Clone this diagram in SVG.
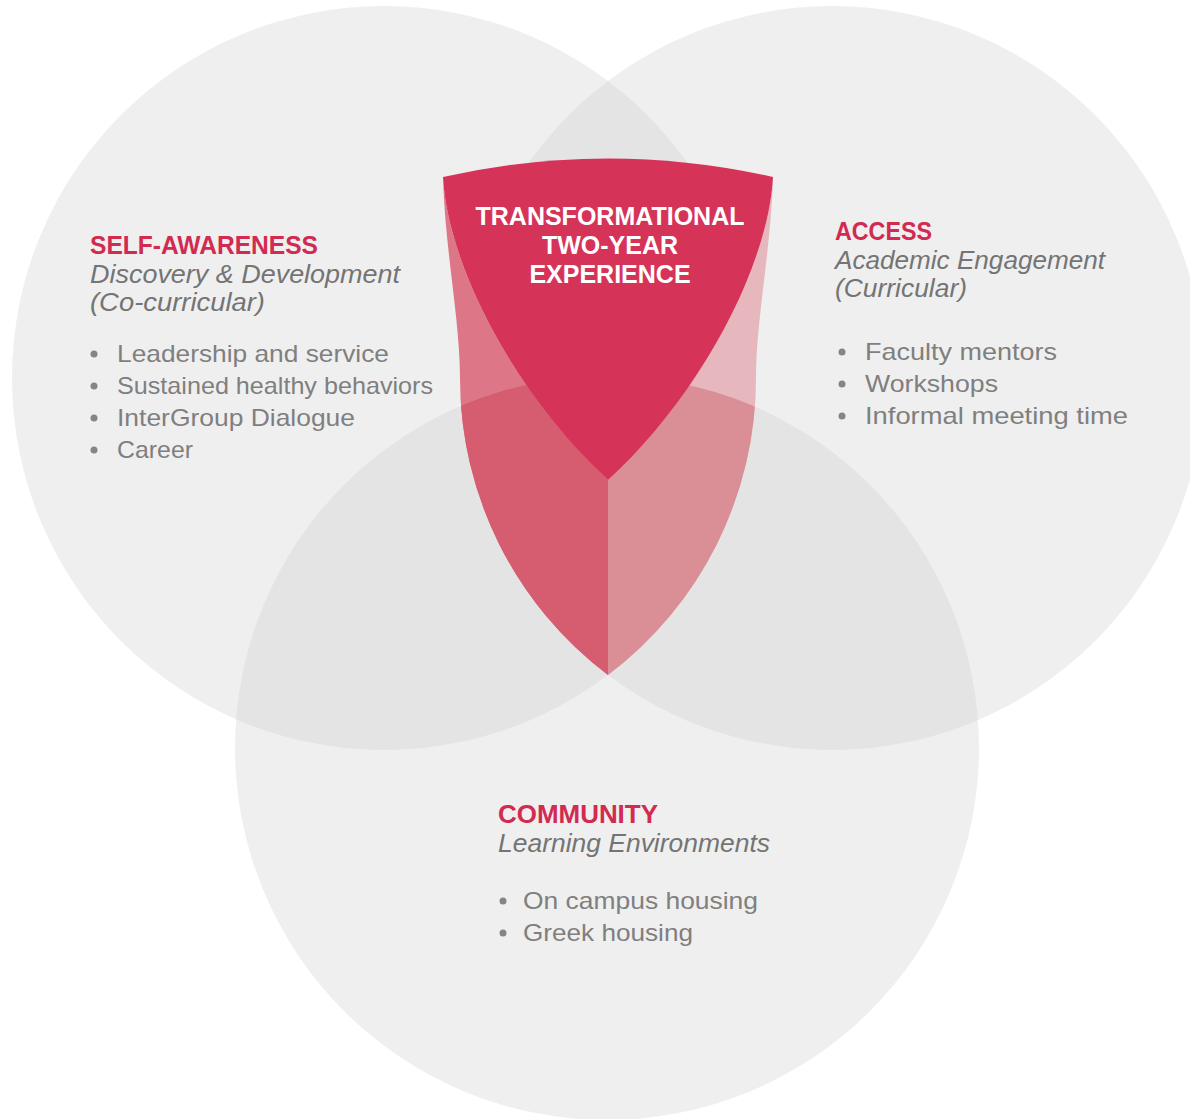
<svg xmlns="http://www.w3.org/2000/svg" width="1190" height="1119" viewBox="0 0 1190 1119">
<style>
.c{fill:#cccccc;fill-opacity:0.31}
.h{font-family:"Liberation Sans",Arial,sans-serif;font-weight:bold;font-size:26px;fill:#d22a50}
.s{font-family:"Liberation Sans",Arial,sans-serif;font-style:italic;font-size:25px;fill:#747474}
.b{font-family:"Liberation Sans",Arial,sans-serif;font-size:24px;fill:#7f7f7f}
.d{fill:#858585}
.t{font-family:"Liberation Sans",Arial,sans-serif;font-weight:bold;font-size:25px;fill:#ffffff;text-anchor:middle}
</style>
<defs>
<clipPath id="bc"><circle cx="607" cy="748" r="372"/></clipPath>
<path id="lp" d="M443,177 C448,270 520,400 608,480 L608,675 A372,372 0 0,1 460,378 C460,320 445,250 443,177 Z"/>
<path id="rp" d="M773,177 C768,270 696,400 608,480 L608,675 A372,372 0 0,0 756,378 C756,320 771,250 773,177 Z"/>
</defs>
<rect width="1190" height="1119" fill="#ffffff"/>
<g id="self-awareness">
<circle class="c" cx="384" cy="378" r="372"/>
<text class="h" x="90" y="254" textLength="228" lengthAdjust="spacingAndGlyphs">SELF-AWARENESS</text>
<text class="s" x="90" y="283" textLength="310" lengthAdjust="spacingAndGlyphs">Discovery &amp; Development</text>
<text class="s" x="90" y="311" textLength="175" lengthAdjust="spacingAndGlyphs">(Co-curricular)</text>
<circle class="d" cx="94" cy="354" r="3.5"/>
<circle class="d" cx="94" cy="386" r="3.5"/>
<circle class="d" cx="94" cy="418" r="3.5"/>
<circle class="d" cx="94" cy="450" r="3.5"/>
<text class="b" x="117" y="362" textLength="272" lengthAdjust="spacingAndGlyphs">Leadership and service</text>
<text class="b" x="117" y="394" textLength="316" lengthAdjust="spacingAndGlyphs">Sustained healthy behaviors</text>
<text class="b" x="117" y="426" textLength="238" lengthAdjust="spacingAndGlyphs">InterGroup Dialogue</text>
<text class="b" x="117" y="458" textLength="76" lengthAdjust="spacingAndGlyphs">Career</text>
</g>
<g id="access">
<circle class="c" cx="832" cy="378" r="372"/>
<text class="h" x="835" y="240" textLength="97" lengthAdjust="spacingAndGlyphs">ACCESS</text>
<text class="s" x="835" y="269" textLength="270" lengthAdjust="spacingAndGlyphs">Academic Engagement</text>
<text class="s" x="835" y="297" textLength="132" lengthAdjust="spacingAndGlyphs">(Curricular)</text>
<circle class="d" cx="842" cy="352" r="3.5"/>
<circle class="d" cx="842" cy="384" r="3.5"/>
<circle class="d" cx="842" cy="416" r="3.5"/>
<text class="b" x="865" y="360" textLength="192" lengthAdjust="spacingAndGlyphs">Faculty mentors</text>
<text class="b" x="865" y="392" textLength="133" lengthAdjust="spacingAndGlyphs">Workshops</text>
<text class="b" x="865" y="424" textLength="263" lengthAdjust="spacingAndGlyphs">Informal meeting time</text>
</g>
<g id="community">
<circle class="c" cx="607" cy="748" r="372"/>
<text class="h" x="498" y="823" textLength="160" lengthAdjust="spacingAndGlyphs">COMMUNITY</text>
<text class="s" x="498" y="852" textLength="272" lengthAdjust="spacingAndGlyphs">Learning Environments</text>
<circle class="d" cx="503" cy="901" r="3.5"/>
<circle class="d" cx="503" cy="933" r="3.5"/>
<text class="b" x="523" y="909" textLength="235" lengthAdjust="spacingAndGlyphs">On campus housing</text>
<text class="b" x="523" y="941" textLength="170" lengthAdjust="spacingAndGlyphs">Greek housing</text>
</g>
<g id="transformational-experience">
<use href="#lp" fill="#dd7686"/>
<use href="#lp" fill="#d65d70" clip-path="url(#bc)"/>
<use href="#rp" fill="#e6b8bd"/>
<use href="#rp" fill="#d98f95" clip-path="url(#bc)"/>
<path d="M443,177 Q608,140 773,177 C768,270 696,400 608,480 C520,400 448,270 443,177 Z" fill="#d63358"/>
<text class="t" x="610" y="225">TRANSFORMATIONAL</text>
<text class="t" x="610" y="254">TWO-YEAR</text>
<text class="t" x="610" y="283">EXPERIENCE</text>
</g>
</svg>
